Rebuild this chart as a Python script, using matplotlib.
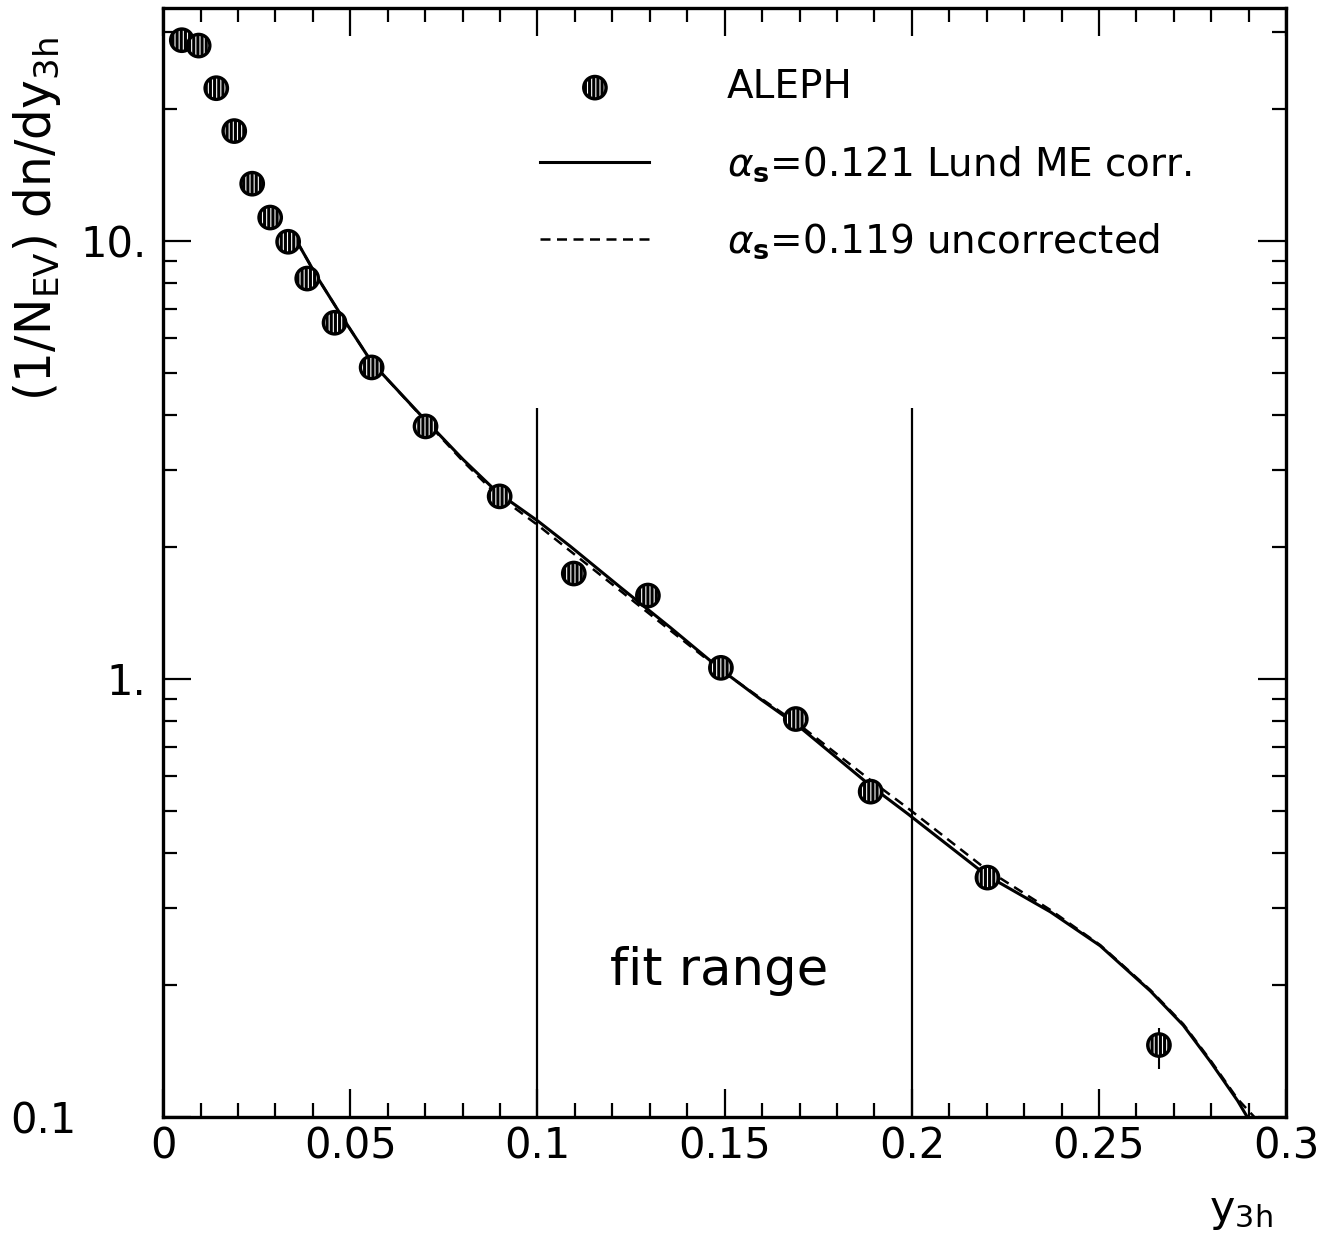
import numpy as np
import matplotlib.pyplot as plt
from matplotlib.lines import Line2D
import matplotlib.transforms as mtransforms

plt.rcParams['font.family'] = ['DejaVu Sans']
plt.rcParams['mathtext.fontset'] = 'dejavusans'
plt.rcParams['hatch.linewidth'] = 2.2

# ALEPH data
y3h = [0.005, 0.0095, 0.0142, 0.019, 0.0238, 0.0286, 0.0334, 0.0385, 0.0458,
       0.0557, 0.0701, 0.0899, 0.1097, 0.1295, 0.149, 0.169, 0.189, 0.2202, 0.266]
dndy = [28.7, 27.9, 22.3, 17.8, 13.5, 11.3, 9.95, 8.2, 6.5,
        5.14, 3.77, 2.61, 1.74, 1.55, 1.06, 0.81, 0.553, 0.352, 0.146]
err_lo = [0.3, 0.3, 0.25, 0.2, 0.15, 0.12, 0.1, 0.08, 0.07,
          0.05, 0.04, 0.03, 0.02, 0.02, 0.015, 0.015, 0.03, 0.01, 0.017]
err_hi = [0.3, 0.3, 0.25, 0.2, 0.15, 0.12, 0.1, 0.08, 0.07,
          0.05, 0.04, 0.03, 0.02, 0.02, 0.015, 0.015, 0.03, 0.01, 0.014]

# alpha_s = 0.121 Lund ME corrected
x_corr = [0.0358, 0.0411, 0.0478, 0.0558, 0.0687, 0.0801, 0.0892, 0.1002, 0.1087, 0.1221,
          0.1355, 0.1488, 0.1595, 0.170, 0.189, 0.1988, 0.22, 0.237, 0.2503, 0.2637,
          0.2725, 0.2797, 0.287, 0.2896]
y_corr = [9.95, 8.28, 6.71, 5.27, 4.01, 3.17, 2.67, 2.29, 2.01, 1.62,
          1.31, 1.054, 0.90, 0.777, 0.570, 0.493, 0.356, 0.294, 0.246, 0.194,
          0.162, 0.134, 0.109, 0.100]

# alpha_s = 0.119 uncorrected
x_unc = [0.0358, 0.0411, 0.0478, 0.0558, 0.0687, 0.0801, 0.0892, 0.1002, 0.1087, 0.1221,
         0.1355, 0.1488, 0.1595, 0.170, 0.189, 0.1988, 0.22, 0.237, 0.2503, 0.2637,
         0.2725, 0.2797, 0.287, 0.2915]
y_unc = [9.95, 8.28, 6.71, 5.27, 4.0, 3.14, 2.63, 2.24, 1.96, 1.59,
         1.29, 1.05, 0.905, 0.785, 0.587, 0.508, 0.367, 0.297, 0.247, 0.195,
         0.163, 0.135, 0.110, 0.100]

fit_lo, fit_hi = 0.1, 0.2

fig = plt.figure(figsize=(13.26, 12.42), dpi=100)
ax = fig.add_axes([0.123, 0.1006, 0.847, 0.893])

ax.plot(x_corr, y_corr, color='black', lw=2.2)
ax.plot(x_unc, y_unc, color='black', lw=1.8, linestyle=(0, (4, 2.6)))

ax.errorbar(y3h, dndy, yerr=[err_lo, err_hi], fmt='none', ecolor='black', elinewidth=1.5)
ax.scatter(y3h, dndy, s=260, facecolor='white', edgecolor='black', linewidth=2.4,
           hatch='||||', zorder=3)

ax.vlines([fit_lo, fit_hi], 0.1, 4.15, color='black', lw=1.6)
ax.text(0.1485, 0.215, 'fit range', fontsize=37, ha='center', va='center')

ax.set_yscale('log')
ax.set_xlim(0, 0.3)
ax.set_ylim(0.1, 34)

ax.set_xticks(np.arange(0, 0.301, 0.05))
ax.set_xticklabels(['0', '0.05', '0.1', '0.15', '0.2', '0.25', '0.3'])
ax.set_xticks(np.arange(0, 0.301, 0.01), minor=True)
ax.set_yticks([0.1, 1, 10])
ax.set_yticklabels(['0.1', '1.', '10.'])
minors = [m * d for d in (0.1, 1, 10) for m in range(2, 10)]
ax.set_yticks([v for v in minors if v < 34], minor=True)
ax.yaxis.set_minor_formatter(plt.NullFormatter())

ax.tick_params(which='both', direction='in', top=True, right=True, labelsize=30, width=1.6)
ax.tick_params(which='major', length=20)
ax.tick_params(which='minor', length=10)
ax.tick_params(axis='y', pad=12)
ax.tick_params(axis='x', pad=6)
for s in ax.spines.values():
    s.set_linewidth(2.4)

fig.canvas.draw()
lab = ax.yaxis.get_major_ticks()[0].label1
lab.set_transform(lab.get_transform() + mtransforms.ScaledTranslation(-0.7, 0, fig.dpi_scale_trans))

ax.set_ylabel(r'(1/N$_{\mathrm{EV}}$) dn/dy$_{\mathrm{3h}}$', fontsize=35)
ax.yaxis.set_label_coords(-0.089, 0.81)
ax.set_xlabel(r'y$_{\mathrm{3h}}$', fontsize=31)
ax.xaxis.set_label_coords(0.96, -0.066)

handles = [
    ax.scatter([], [], s=260, facecolor='white', edgecolor='black', linewidth=2.4, hatch='||||'),
    Line2D([], [], color='black', lw=2.2),
    Line2D([], [], color='black', lw=1.8, linestyle=(0, (4, 2.6))),
]
labels = ['ALEPH', r'$\alpha_{\mathbf{s}}$=0.121 Lund ME corr.', r'$\alpha_{\mathbf{s}}$=0.119 uncorrected']
ax.legend(handles, labels, loc='upper left', bbox_to_anchor=(0.336, 0.946), frameon=False,
          fontsize=28, handlelength=2.8, handletextpad=2.0, labelspacing=0.98,
          borderpad=0, borderaxespad=0)

fig.savefig('out.png', dpi=100)
